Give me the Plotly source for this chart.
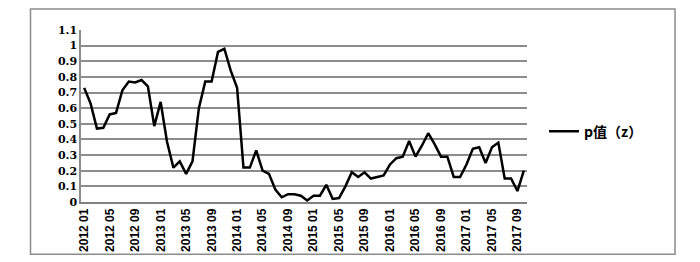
import plotly.graph_objects as go

months = [f"{y} {m:02d}" for y in range(2012, 2018) for m in range(1, 13)][:70]
p_values = [0.73, 0.63, 0.47, 0.475, 0.56, 0.57, 0.715, 0.77, 0.765, 0.78, 0.74, 0.485,
            0.64, 0.385, 0.22, 0.26, 0.18, 0.26, 0.60, 0.77, 0.77, 0.96, 0.98, 0.84,
            0.73, 0.22, 0.22, 0.33, 0.20, 0.18, 0.08, 0.03, 0.05, 0.05, 0.04, 0.01,
            0.04, 0.04, 0.11, 0.02, 0.025, 0.10, 0.19, 0.16, 0.19, 0.15, 0.16, 0.17,
            0.24, 0.28, 0.29, 0.39, 0.29, 0.36, 0.44, 0.37, 0.29, 0.29, 0.16, 0.16,
            0.24, 0.34, 0.35, 0.25, 0.35, 0.38, 0.15, 0.15, 0.07, 0.20]
series_name = "p值（z）"
y_ticks = [round(i * 0.1, 1) for i in range(12)]
y_tick_text = ["0", "0.1", "0.2", "0.3", "0.4", "0.5", "0.6", "0.7", "0.8", "0.9", "1", "1.1"]
x_index = list(range(len(months)))
x_tick_vals = x_index[::4]
x_tick_text = months[::4]

W, H = 700, 262
L, R, T, B = 81, 527, 30, 202.5

fig = go.Figure()
fig.add_trace(go.Scatter(x=x_index, y=p_values, mode="lines", name=series_name,
                         line=dict(color="black", width=2.5), showlegend=True,
                         text=months, hovertemplate="%{text}: %{y}<extra></extra>"))

def px(xp):
    return (xp - L) / (R - L)

def py(yp):
    return (B - yp) / (B - T)

xrange = [-0.5, len(months) - 0.5]

fig.update_layout(
    width=W, height=H,
    margin=dict(l=L, r=W - R, t=T, b=H - B, autoexpand=False),
    paper_bgcolor="white", plot_bgcolor="white",
    showlegend=True,
    legend=dict(x=px(544), y=py(132), xanchor="left", yanchor="middle",
                font=dict(family="Noto Sans CJK SC", size=14, color="black", weight="bold"),
                bgcolor="rgba(0,0,0,0)", itemwidth=30),
    xaxis=dict(type="linear", tickmode="array", tickvals=x_tick_vals, ticktext=x_tick_text,
               range=xrange,
               tickangle=-90, ticks="", showline=True, linecolor="#808080", linewidth=1.5,
               showgrid=False, zeroline=False, automargin=False,
               tickfont=dict(family="Liberation Sans", size=12, color="black", weight="bold")),
    xaxis2=dict(type="linear", overlaying="x", anchor="y", side="bottom", range=xrange,
                tickmode="linear", tick0=-0.5, dtick=1, ticks="inside", ticklen=4,
                tickwidth=1, tickcolor="#505050", showticklabels=False, showline=False,
                showgrid=False, zeroline=False, automargin=False),
    yaxis=dict(range=[0, 1.1], tickmode="array", tickvals=y_ticks, ticktext=y_tick_text,
               showgrid=True, gridcolor="#8c8c8c", gridwidth=1.5, zeroline=False,
               showline=True, linecolor="#8c8c8c", linewidth=1.5, ticks="", automargin=False,
               tickfont=dict(family="DejaVu Serif", size=11, color="black", weight="bold")),
    shapes=[dict(type="rect", xref="paper", yref="paper",
                 x0=px(30.5), x1=px(675), y0=py(255), y1=py(9),
                 line=dict(color="#8c8c8c", width=1.5), fillcolor="rgba(0,0,0,0)")],
)

fig.write_html("out.html")
